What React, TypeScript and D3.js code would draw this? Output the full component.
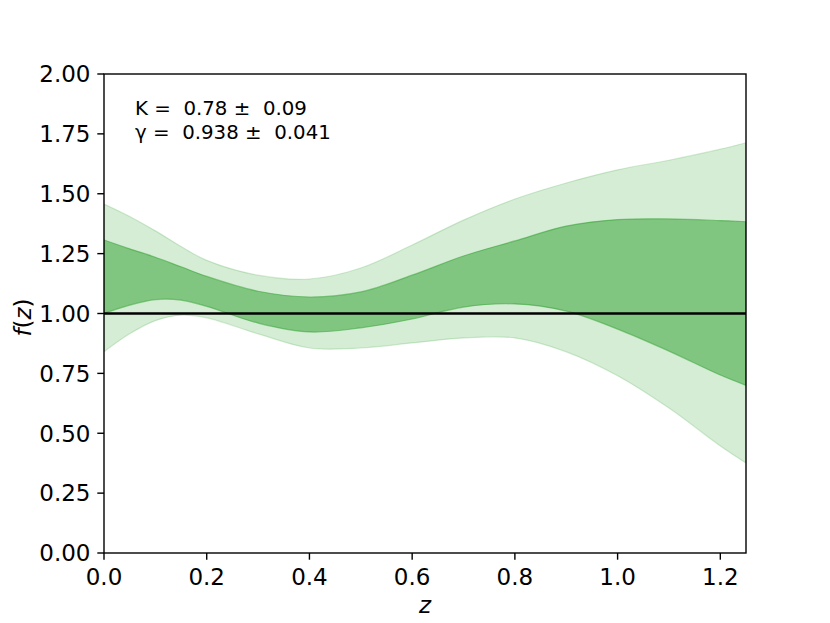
import React from "react";
import * as d3 from "d3";

// z grid and band edges
const zValues = [0, 0.05, 0.1, 0.15, 0.2, 0.3, 0.4, 0.5, 0.6, 0.7, 0.8, 0.9, 1.0, 1.1, 1.2, 1.25];
const outerUpper = [1.457, 1.405, 1.345, 1.28, 1.222, 1.16, 1.144, 1.19, 1.286, 1.39, 1.478, 1.545, 1.6, 1.64, 1.686, 1.713];
const innerUpper = [1.307, 1.27, 1.235, 1.195, 1.155, 1.093, 1.069, 1.09, 1.16, 1.24, 1.303, 1.365, 1.392, 1.395, 1.388, 1.383];
const innerLower = [1.0, 1.035, 1.058, 1.056, 1.03, 0.96, 0.923, 0.94, 0.977, 1.027, 1.04, 1.01, 0.935, 0.843, 0.743, 0.7];
const outerLower = [0.84, 0.915, 0.97, 0.993, 0.982, 0.915, 0.856, 0.856, 0.877, 0.898, 0.898, 0.84, 0.74, 0.605, 0.447, 0.376];

const xTicks = [0, 0.2, 0.4, 0.6, 0.8, 1.0, 1.2];
const yTicks = [0, 0.25, 0.5, 0.75, 1.0, 1.25, 1.5, 1.75, 2.0];
const annotations = ["K =  0.78 \u00b1  0.09", "\u03b3 =  0.938 \u00b1  0.041"];

const W = 830;
const H = 623;
const margin = { left: 104, right: 84, top: 74, bottom: 70 };
const green = "#2ca02c";
const font = "'DejaVu Sans', sans-serif";
const tickSize = 23;

export default function App() {
  const x = d3.scaleLinear().domain([0, 1.25]).range([margin.left, W - margin.right]);
  const y = d3.scaleLinear().domain([0, 2]).range([H - margin.bottom, margin.top]);

  const band = (lo: number[], hi: number[]) =>
    d3
      .area<number>()
      .x((_, i) => x(zValues[i]))
      .y0((_, i) => y(lo[i]))
      .y1((_, i) => y(hi[i]))
      .curve(d3.curveCatmullRom.alpha(0.5))(zValues) as string;

  const outerPath = band(outerLower, outerUpper);
  const innerPath = band(innerLower, innerUpper);

  const [x0, x1] = x.range();
  const [yb, yt] = y.range();

  return (
    <div style={{ position: "absolute", left: 0, top: 0 }}>
      <svg width={W} height={H} style={{ display: "block", background: "#fff" }}>
        <defs>
          <clipPath id="plot">
            <rect x={x0} y={yt} width={x1 - x0} height={yb - yt} />
          </clipPath>
        </defs>

        <g clipPath="url(#plot)">
          <path d={outerPath} fill={green} fillOpacity={0.2} stroke={green} strokeOpacity={0.2} strokeWidth={1.2} />
          <path d={innerPath} fill={green} fillOpacity={0.5} stroke={green} strokeOpacity={0.5} strokeWidth={1.2} />
          <line x1={x0} x2={x1} y1={y(1)} y2={y(1)} stroke="#000" strokeWidth={2.6} />
        </g>

        {/* frame */}
        <rect x={x0} y={yt} width={x1 - x0} height={yb - yt} fill="none" stroke="#000" strokeWidth={1.4} />

        {/* x axis */}
        {xTicks.map((t) => (
          <g key={"x" + t}>
            <line x1={x(t)} x2={x(t)} y1={yb} y2={yb + 6.7} stroke="#000" strokeWidth={1.4} />
            <text x={x(t)} y={584.5} textAnchor="middle" fontFamily={font} fontSize={tickSize} fill="#000">
              {t.toFixed(1)}
            </text>
          </g>
        ))}
        <text x={(x0 + x1) / 2} y={612.5} textAnchor="middle" fontFamily={font} fontSize={tickSize} fontStyle="italic" fill="#000">
          z
        </text>

        {/* y axis */}
        {yTicks.map((t) => (
          <g key={"y" + t}>
            <line x1={x0 - 6.7} x2={x0} y1={y(t)} y2={y(t)} stroke="#000" strokeWidth={1.4} />
            <text x={90.5} y={y(t)} dy="0.36em" textAnchor="end" fontFamily={font} fontSize={tickSize} fill="#000">
              {t.toFixed(2)}
            </text>
          </g>
        ))}
        <text
          transform={`translate(31, ${(yt + yb) / 2 + 4}) rotate(-90)`}
          textAnchor="middle"
          fontFamily={font}
          fontSize={tickSize}
          fill="#000"
        >
          <tspan fontStyle="italic">f</tspan>(<tspan fontStyle="italic">z</tspan>)
        </text>

        {/* fit parameters */}
        {annotations.map((s, i) => (
          <text
            key={s}
            x={135}
            y={115 + i * 24}
            fontFamily={font}
            fontSize={19.8}
            fill="#000"
            style={{ whiteSpace: "pre" }}
          >
            {s}
          </text>
        ))}
      </svg>
    </div>
  );
}
